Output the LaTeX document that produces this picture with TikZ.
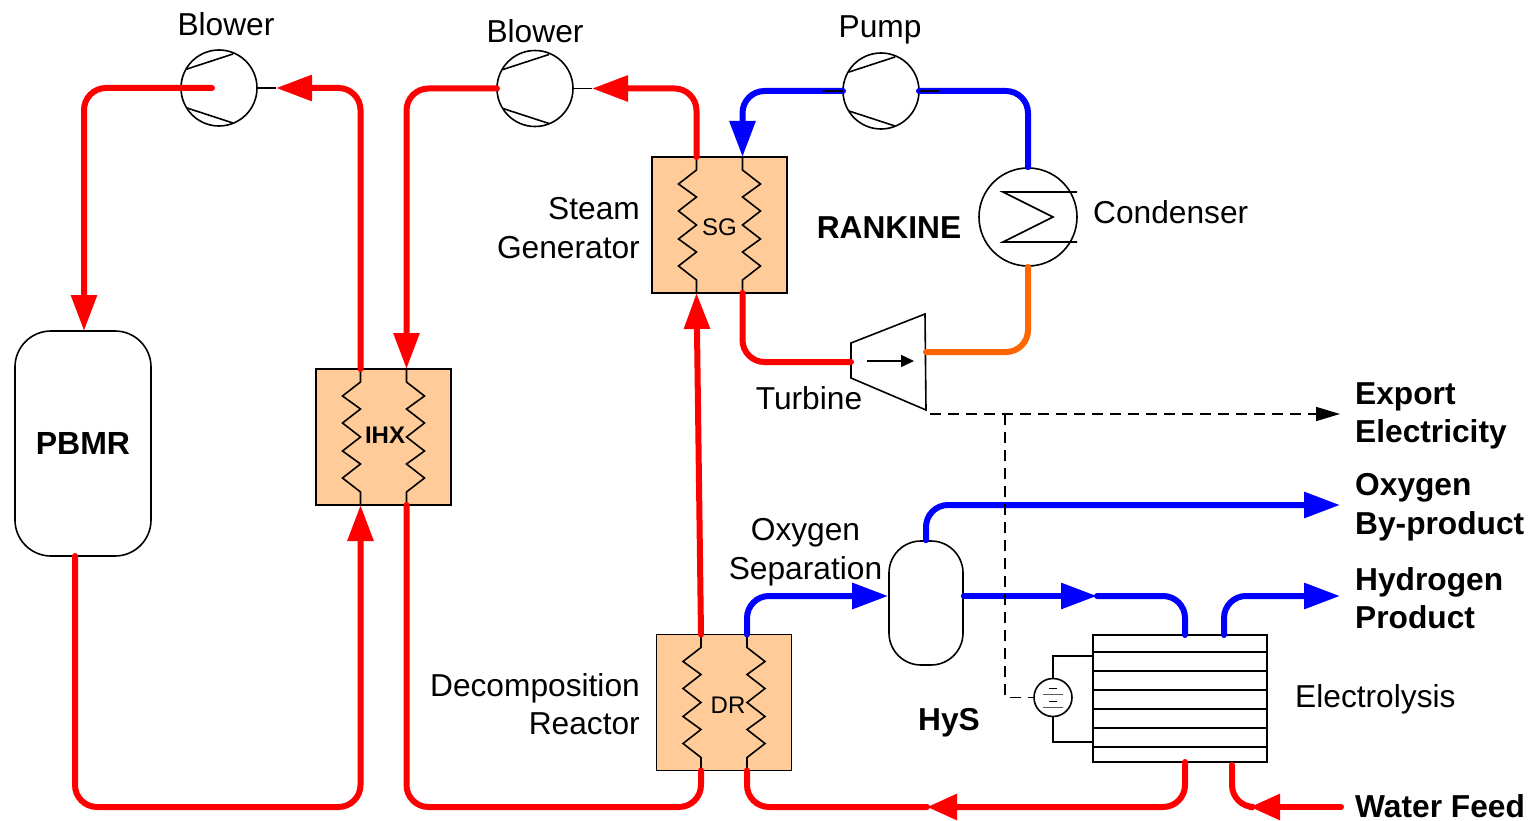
\documentclass[tikz,border=0pt]{standalone}
\usepackage{fontspec}
\setmainfont{Liberation Sans}
\usetikzlibrary{arrows.meta}
\tikzset{
    hxcoil/.pic={
        \coordinate (-nw) at (-23,-68);
        \coordinate (-ne) at (23,-68);
        \coordinate (-sw) at (-23,68);
        \coordinate (-se) at (23,68);
        \draw[wire] (-nw) -- (-23,-55) -- (-41,-41) -- (-23,-28) -- (-41,-14) -- (-23,0) -- (-41,14) -- (-23,27) -- (-41,41) -- (-23,55) -- (-sw);
        \draw[wire] (-ne) -- (23,-55) -- (41,-41) -- (23,-28) -- (41,-14) -- (23,0) -- (41,14) -- (23,27) -- (41,41) -- (23,55) -- (-se);
    }
}
\begin{document}
\begin{tikzpicture}[x=1pt, y=-1pt, line join=miter,
    wire/.style={draw=black, line width=1.6pt},
    redpipe/.style={draw=pipered, line width=6pt, rounded corners=22pt, line cap=round},
    bluepipe/.style={redpipe, draw=pipeblue},
    orangepipe/.style={redpipe, draw=pipeorange},
    flow/.style={-{Triangle[length=36pt, width=25pt]}},
    shortflow/.style={-{Triangle[length=30pt, width=25pt]}},
    label/.style={font=\fontsize{31.7}{38.5}\selectfont, inner sep=0pt},
    boldlabel/.style={label, font=\fontsize{31.7}{38.5}\selectfont\bfseries, align=left, anchor=west},
    hxbox/.style={draw=black, fill=hxfill, line width=1.6pt, minimum width=135pt, minimum height=136pt, inner sep=0pt, font=\fontsize{24}{28}\selectfont},
    machine/.style={circle, draw=black, fill=white, line width=1.6pt, minimum size=76pt, inner sep=0pt},
    vessel/.style={draw=black, fill=white, line width=1.6pt, inner sep=0pt}]
    \definecolor{pipered}{RGB}{255,0,0}
    \definecolor{pipeblue}{RGB}{0,0,255}
    \definecolor{pipeorange}{RGB}{255,102,0}
    \definecolor{hxfill}{RGB}{255,204,153}
    \useasboundingbox (0,0) rectangle (1531,821);

    \node[vessel, rounded corners=36pt, minimum width=136pt, minimum height=225pt, font=\fontsize{32}{36}\selectfont\bfseries] (pbmr) at (83,443.5) {PBMR};
    \node[hxbox] (ihx) at (383.5,437) {};
    \node[hxbox] (sg) at (719.5,225) {};
    \node[hxbox] (dr) at (724,702.5) {};
    \pic (ihxcoil) at (ihx) {hxcoil};
    \pic (sgcoil) at (sg) {hxcoil};
    \pic (drcoil) at (dr) {hxcoil};
    \node[font=\fontsize{24}{28}\selectfont\bfseries, inner sep=0pt] (ihxlabel) at (385,435) {IHX};
    \node[font=\fontsize{24}{28}\selectfont, inner sep=0pt] (sglabel) at (719.5,227) {SG};
    \node[font=\fontsize{24}{28}\selectfont, inner sep=0pt] (drlabel) at (728,705) {DR};

    \node[machine] (blowerone) at (219,88) {};
    \node[machine] (blowertwo) at (535,88.5) {};
    \node[machine] (pump) at (881,91) {};
    \foreach \m in {blowerone, blowertwo, pump} {
        \draw[wire] ([shift={(-32,-19)}]\m.center) -- ([shift={(14,-34)}]\m.center);
        \draw[wire] ([shift={(-32,20)}]\m.center) -- ([shift={(14,35)}]\m.center);
    }

    \node[circle, draw=black, fill=white, line width=1.6pt, minimum size=98pt, inner sep=0pt] (condenser) at (1028,217) {};
    \coordinate (condtop) at (1003,192);
    \coordinate (condbot) at (1003,242);
    \draw[wire] (1077,192) -- (condtop) -- (1053,217) -- (condbot) -- (1077,242);

    \coordinate (turbinein) at (851,362);
    \coordinate (turbineout) at (926,352);
    \draw[wire, fill=white] (851,343) -- (925,314) -- (926,410) -- (851,378) -- cycle;
    \draw[wire, -{Triangle[length=13pt, width=12pt]}] (867,361) -- (914,361);

    \node[vessel, rounded corners=32pt, minimum width=74pt, minimum height=124pt] (separator) at (926,603) {};

    \node[vessel, minimum width=174pt, minimum height=127pt] (stack) at (1180,698.5) {};
    \foreach \y in {652,671,690,709,728,747} {
        \draw[wire] (1093,\y) -- (1267,\y);
    }

    \node[circle, draw=black, fill=white, line width=1.6pt, minimum size=38pt, inner sep=0pt] (supply) at (1053,697.5) {};
    \draw[wire] (supply.north) |- (1093,656);
    \draw[wire] (supply.south) |- (1093,742);
    \draw[line width=1pt, draw=black] (1049,688) -- (1057,688);
    \draw[line width=1pt, draw=black!65] (1043,694) -- (1063,694);
    \draw[line width=1pt, draw=black] (1049,701) -- (1057,701);
    \draw[line width=1pt, draw=black!65] (1043,707) -- (1063,707);

    \coordinate (blowerstubone) at (276,88);
    \coordinate (blowerinone) at (212,88);
    \coordinate (blowerstubtwo) at (592,88.5);
    \coordinate (blowerintwo) at (497,88.5);
    \coordinate (pbmrin) at (84,331);
    \coordinate (pbmrout) at (75,556);
    \coordinate (pumpleft) at (843,91);
    \coordinate (pumpright) at (919,91);
    \coordinate (railone) at (200,807);
    \coordinate (railtwo) at (560,807);
    \coordinate (railthree) at (927,807);
    \coordinate (drout) at (747,596);
    \coordinate (sepmid) at (1097,596);
    \coordinate (stackinblue) at (1185,635);
    \coordinate (stackoutblue) at (1224,635);
    \coordinate (stackinred) at (1185,762);
    \coordinate (stackoutred) at (1232,765);
    \coordinate (waterin) at (1341,807);
    \coordinate (watertip) at (1250,807);
    \coordinate (electricityend) at (1340,414);
    \coordinate (electricitystart) at (930,414);
    \coordinate (oxygenend) at (1340,505);
    \coordinate (hydrogenend) at (1340,596);
    \coordinate (gridtap) at (1005,414);

    \draw[wire] (blowerone.east) -- (blowerstubone);
    \draw[wire] (blowertwo.east) -- (blowerstubtwo);

    \draw[redpipe, flow] (ihxcoil-nw) |- (blowerstubone);
    \draw[redpipe, flow] (blowerinone) -| (pbmrin);
    \draw[redpipe, flow] (pbmrout) |- (railone) -| (ihxcoil-sw);
    \draw[redpipe, flow] (sgcoil-nw) |- (blowerstubtwo);
    \draw[redpipe, flow] (blowerintwo) -| (ihxcoil-ne);
    \draw[redpipe] (ihxcoil-se) |- (railtwo) -| (drcoil-sw);
    \draw[redpipe, flow] (drcoil-nw) -- (sgcoil-sw);
    \draw[redpipe] (sgcoil-se) |- (turbinein);
    \draw[orangepipe] (turbineout) -| (condenser.south);
    \draw[bluepipe] (condenser.north) |- (pumpright);
    \draw[bluepipe, flow] (pumpleft) -| (sgcoil-ne);
    \draw[wire] ([xshift=-20pt]pumpleft) -- (pumpleft);
    \draw[wire] (pumpright) -- ([xshift=20pt]pumpright);

    \draw[bluepipe, flow] (drcoil-ne) |- (separator.west |- drout);
    \draw[bluepipe, flow] (separator.north) |- (oxygenend);
    \draw[bluepipe, flow] (separator.east |- drout) -- (sepmid);
    \draw[bluepipe] (sepmid) -| (stackinblue);
    \draw[bluepipe, flow] (stackoutblue) |- (hydrogenend);
    \draw[redpipe] (drcoil-se) |- (railthree);
    \draw[redpipe, shortflow] (stackinred) |- (railthree);
    \draw[redpipe] (stackoutred) |- (watertip);
    \draw[redpipe, shortflow] (waterin) -- (watertip);

    \draw[line width=1.6pt, dash pattern=on 11pt off 7pt, -{Triangle[length=24pt, width=14pt]}] (electricitystart) -- (electricityend);
    \draw[line width=1.6pt, dash pattern=on 11pt off 7pt] (gridtap) |- (supply.west);

    \node[label] (blowerlabelone) at (226,24) {Blower};
    \node[label] (blowerlabeltwo) at (535,31) {Blower};
    \node[label] (pumplabel) at (880,30) {Pump};
    \node[label, align=right, anchor=east] (steamlabel) at (640,228) {Steam\\Generator};
    \node[label, font=\fontsize{31.7}{36}\selectfont\bfseries] (rankinelabel) at (889,228) {RANKINE};
    \node[label, anchor=west] (condenserlabel) at (1093,212) {Condenser};
    \node[label] (turbinelabel) at (809,398) {Turbine};
    \node[label, align=center] (separationlabel) at (805.5,552) {Oxygen\\Separation};
    \node[label, align=right, anchor=east] (reactorlabel) at (640,704) {Decomposition\\Reactor};
    \node[label, font=\fontsize{31.7}{36}\selectfont\bfseries] (hyslabel) at (949,723) {HyS};
    \node[label, anchor=west] (electrolysislabel) at (1295,699) {Electrolysis};
    \node[boldlabel] (exportlabel) at (1355,416) {Export\\Electricity};
    \node[boldlabel] (oxygenlabel) at (1355,507) {Oxygen\\By-product};
    \node[boldlabel] (hydrogenlabel) at (1355,598) {Hydrogen\\Product};
    \node[boldlabel] (waterlabel) at (1355,806) {Water Feed};
\end{tikzpicture}
\end{document}
